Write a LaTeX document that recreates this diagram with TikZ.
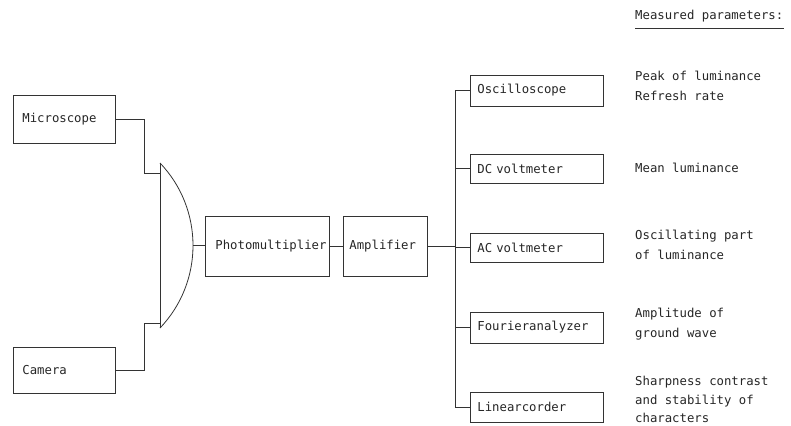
\documentclass[tikz,border=0pt]{standalone}
\usepackage{fontspec}
\setmonofont{DejaVu Sans Mono}
\begin{document}
\begin{tikzpicture}[x=1bp,y=-1bp,
  every node/.style={font=\ttfamily\fontsize{12.3bp}{20bp}\selectfont, text=black!85},
  box/.style={draw=black!80, line width=0.8bp, inner xsep=0pt, inner ysep=0pt, align=left, anchor=west},
  wire/.style={draw=black!80, line width=0.8bp},
  info/.style={anchor=west, align=left, inner sep=0pt}]
\useasboundingbox (0,0) rectangle (791,425);
% left boxes
\node[box, text width=102bp, minimum height=48bp] (mic) at (13,119) {\hspace*{9bp}Microscope};
\node[box, text width=102bp, minimum height=46bp] (cam) at (13,370) {\hspace*{9bp}Camera};
\node[box, text width=124bp, minimum height=60bp] (pm) at (205,246) {\hspace*{10bp}Photomultiplier};
\node[box, text width=84bp, minimum height=60bp] (amp) at (343,246) {\hspace*{6bp}Amplifier};
% devices
\node[box, text width=133bp, minimum height=31bp] (osc) at (470,90.5) {\hspace*{7bp}Oscilloscope};
\node[box, text width=133bp, minimum height=29bp] (dc) at (470,168.5) {\hspace*{7bp}DC voltmeter};
\node[box, text width=133bp, minimum height=29bp] (ac) at (470,247.5) {\hspace*{7bp}AC voltmeter};
\node[box, text width=133bp, minimum height=31bp] (four) at (470,327.5) {\hspace*{7bp}Fourieranalyzer};
\node[box, text width=133bp, minimum height=30bp] (lin) at (470,407) {\hspace*{7bp}Linearcorder};
% lens
\coordinate (lt) at (160,163);
\coordinate (lb) at (160,328);
\coordinate (lm) at (193,245.5);
\coordinate (li1) at (161,173);
\coordinate (li2) at (161,323);
\draw[wire] (lt) -- (lb);
\draw[wire] (lt) .. controls (204,209) and (204,282) .. (lb);
% connectors left
\draw[wire] (mic.east) -- ++(29,0) |- (li1);
\draw[wire] (cam.east) -- ++(29,0) |- (li2);
\draw[wire] (lm) -- (lm -| pm.west);
\draw[wire] (pm.east) -- (amp.west);
% bus
\coordinate (bt) at (455,90.5);
\coordinate (bb) at (455,407);
\draw[wire] (bt) -- (bb);
\draw[wire] (amp.east) -- (amp.east -| bt);
\foreach \n in {osc,dc,ac,four,lin}
  \draw[wire] (\n.west -| bt) -- (\n.west);
% measured parameters
\node[info] (mp) at (635,16) {Measured parameters:};
\coordinate (ul) at (0,28);
\draw[wire] (mp.west |- ul) -- (mp.east |- ul);
\node[info] (t1) at (635,86) {Peak of luminance\\Refresh rate};
\node[info] (t2) at (635,168) {Mean luminance};
\node[info] (t3) at (635,245) {Oscillating part\\of luminance};
\node[info] (t4) at (635,324) {Amplitude of\\ground wave};
\node[info, font=\ttfamily\fontsize{12.3bp}{18.5bp}\selectfont] (t5) at (635,399.5) {Sharpness contrast\\and stability of\\characters};
\end{tikzpicture}
\end{document}
